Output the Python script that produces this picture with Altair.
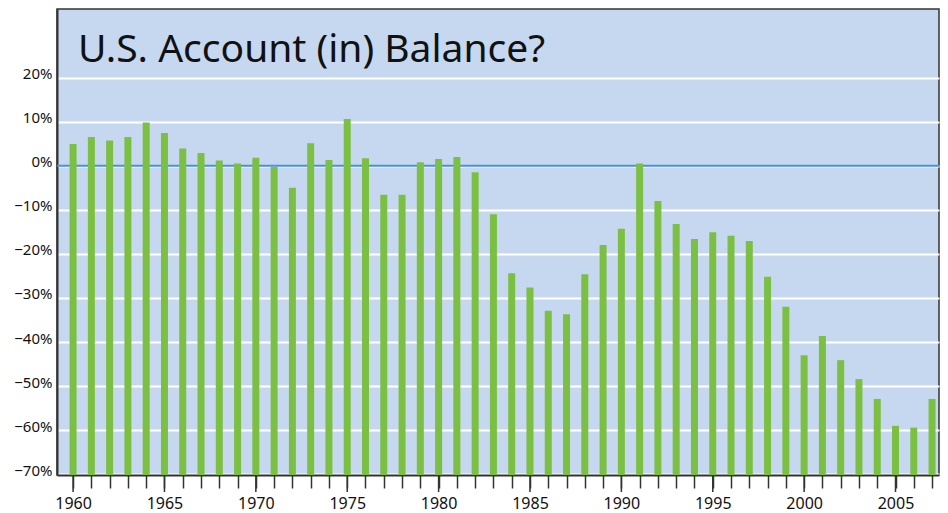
import altair as alt
import pandas as pd

TITLE = "U.S. Account (in) Balance?"
years = list(range(1960, 2008))
values = [4.9, 6.5, 5.7, 6.5, 9.8, 7.4, 3.9, 2.9, 1.2, 0.5,
          1.8, -0.3, -5.0, 5.1, 1.3, 10.6, 1.7, -6.6, -6.6, 0.8,
          1.5, 2.0, -1.5, -11.0, -24.4, -27.6, -32.9, -33.7, -24.6, -18.0,
          -14.3, 0.5, -8.0, -13.2, -16.6, -15.1, -15.9, -17.1, -25.2, -32.0,
          -43.0, -38.6, -44.1, -48.4, -52.9, -59.0, -59.4, -52.9]
y_ticks = [20, 10, 0, -10, -20, -30, -40, -50, -60, -70]
x_labels = [1960, 1965, 1970, 1975, 1980, 1985, 1990, 1995, 2000, 2005]

Y_MIN, Y_MAX = -70.15, 35.54
X_MIN, X_MAX = 1959.12, 2007.38

df = pd.DataFrame({"year": years, "value": values})
major_df = pd.DataFrame({"year": x_labels})
FONT = "Noto Sans"

xscale = alt.Scale(domain=[X_MIN, X_MAX], nice=False, zero=False, padding=0)
yscale = alt.Scale(domain=[Y_MIN, Y_MAX], nice=False, zero=False, padding=0)

y_axis = alt.Axis(values=y_ticks, title=None, grid=True, gridColor="white", gridWidth=2,
                  gridOpacity=1, ticks=False, labelPadding=5,
                  labelExpr="format(datum.value, 'd') + '%'", labelFont=FONT,
                  labelFontSize=15, labelColor="#111", labelBaseline="alphabetic",
                  labelOffset=1, domainColor="#333", domainWidth=2)

x_axis = alt.Axis(values=years, title=None, grid=False, tickSize=13, tickColor="#333",
                  tickWidth=1.5, format="d",
                  labelExpr="datum.value % 5 == 0 ? datum.label : ''",
                  labelFont=FONT, labelFontSize=16, labelColor="#111", labelPadding=7,
                  labelFlush=False, labelOverlap=False,
                  domainColor="#333", domainWidth=2)

zero_df = pd.DataFrame({"y": [0]})
zero_line = alt.Chart(zero_df).mark_rule(color="#4A90D9", strokeWidth=2).encode(
    y=alt.Y("y:Q", scale=yscale, axis=y_axis)
)

bars = alt.Chart(df).mark_bar(color="#7BC042", width=7).encode(
    x=alt.X("year:Q", scale=xscale, axis=x_axis),
    y=alt.Y("value:Q", scale=yscale, axis=y_axis),
    y2=alt.datum(Y_MIN),
)

major_ticks = alt.Chart(major_df).mark_rule(color="#333", strokeWidth=1.5).encode(
    x=alt.X("year:Q", scale=xscale, axis=x_axis),
    y=alt.value(466), y2=alt.value(483),
)

title_df = pd.DataFrame({"t": [TITLE]})
title = alt.Chart(title_df).mark_text(align="left", baseline="alphabetic", font=FONT,
                                      fontSize=39, color="#111").encode(
    x=alt.value(21), y=alt.value(53), text="t:N"
)

chart = alt.layer(zero_line, bars, major_ticks, title).properties(
    width=882, height=466,
    autosize=alt.AutoSizeParams(type="none"),
    padding={"left": 49, "top": 1, "right": 1, "bottom": 38},
).configure_view(fill="#C6D8EF", stroke="#333", strokeWidth=1.5)

chart.save("out.html", embed_options={"renderer": "svg", "actions": False})
